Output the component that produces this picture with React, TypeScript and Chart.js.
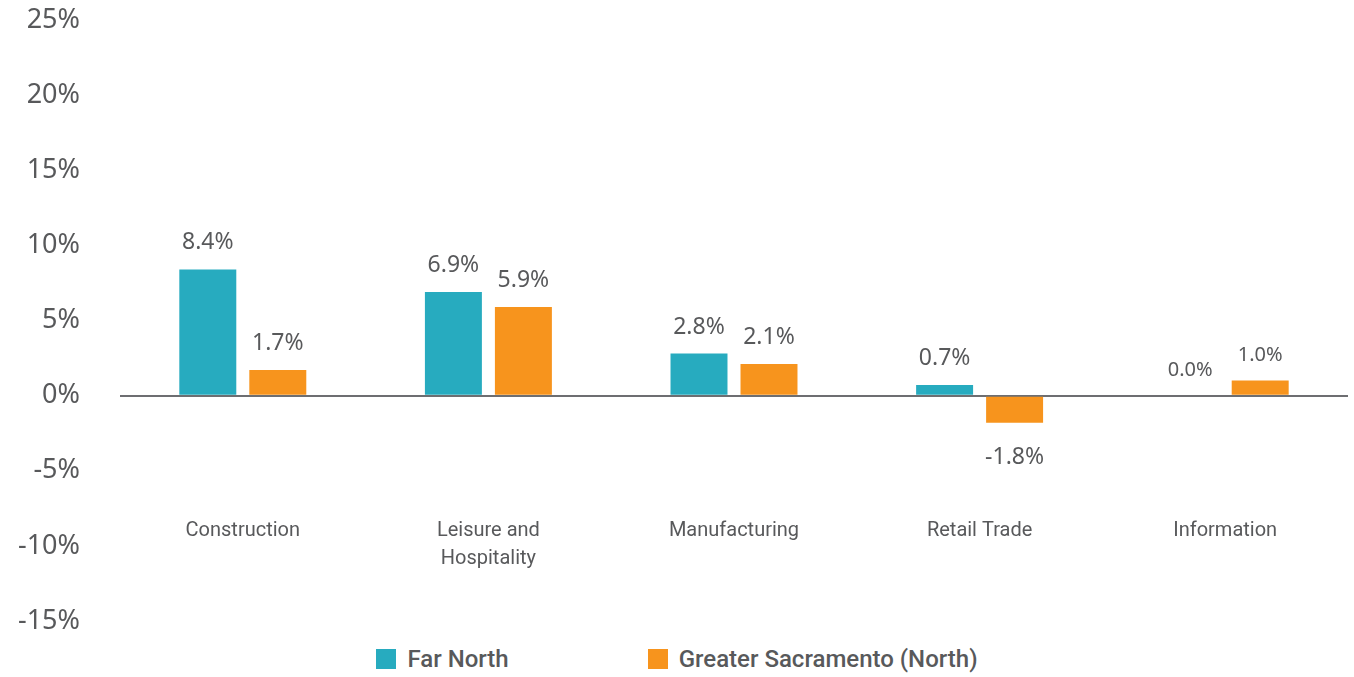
import React, { useEffect, useRef } from "react";
import { Chart, registerables } from "chart.js";

Chart.register(...registerables);

const categories: (string | string[])[] = [
  "Construction",
  ["Leisure and", "Hospitality"],
  "Manufacturing",
  "Retail Trade",
  "Information",
];
const farNorth = [8.4, 6.9, 2.8, 0.7, 0.0];
const greaterSacramento = [1.7, 5.9, 2.1, -1.8, 1.0];
const seriesNames = ["Far North", "Greater Sacramento (North)"];
const seriesColors = ["#27abbf", "#f7941d"];
const yMin = -15;
const yMax = 25;
const yStep = 5;

const TEXT = "#58595b";

const valueLabels = {
  id: "valueLabels",
  afterDatasetsDraw(chart: any) {
    const ctx = chart.ctx;
    ctx.save();
    ctx.fillStyle = TEXT;
    ctx.textAlign = "center";
    ctx.textBaseline = "alphabetic";
    chart.data.datasets.forEach((ds: any, di: number) => {
      const meta = chart.getDatasetMeta(di);
      meta.data.forEach((el: any, i: number) => {
        const v = ds.data[i];
        const size = i === categories.length - 1 ? 20 : 23;
        ctx.font = `${size}px "Noto Sans", sans-serif`;
        const y = v >= 0 ? el.y - 20 : el.y + 41;
        ctx.fillText(v.toFixed(1) + "%", el.x, y);
      });
    });
    ctx.restore();
  },
};

export default function App() {
  const ref = useRef<HTMLCanvasElement>(null);

  useEffect(() => {
    if (!ref.current) return;
    const chart = new Chart(ref.current, {
      type: "bar",
      data: {
        labels: categories,
        datasets: [
          {
            label: seriesNames[0],
            data: farNorth,
            backgroundColor: seriesColors[0],
            categoryPercentage: 0.57,
            barPercentage: 0.814,
          },
          {
            label: seriesNames[1],
            data: greaterSacramento,
            backgroundColor: seriesColors[1],
            categoryPercentage: 0.57,
            barPercentage: 0.814,
          },
        ],
      },
      options: {
        animation: false,
        responsive: true,
        maintainAspectRatio: false,
        layout: { padding: { top: 20, right: 6, bottom: 19, left: 0 } },
        plugins: {
          legend: { display: false },
          tooltip: { enabled: false },
        },
        scales: {
          x: {
            type: "category",
            position: { y: -8.1 } as any,
            afterFit(scale: any) {
              scale.height = 0;
            },
            grid: { display: false, drawTicks: false },
            border: { display: false },
            ticks: {
              color: TEXT,
              padding: 0,
              maxRotation: 0,
              autoSkip: false,
              font: { family: "Roboto", size: 20, lineHeight: 1.4 },
            },
          },
          y: {
            min: yMin,
            max: yMax,
            afterFit(scale: any) {
              scale.width = 120;
              scale.paddingTop = 0;
              scale.paddingBottom = 0;
            },
            ticks: {
              stepSize: yStep,
              color: TEXT,
              padding: 40,
              font: { family: "Noto Sans", size: 27 },
              callback: (v: any) => `${v}%`,
            },
            border: { display: false },
            grid: {
              drawTicks: false,
              lineWidth: 2,
              color: (c: any) => (c.tick && c.tick.value === 0 ? "#6d6e71" : "rgba(0,0,0,0)"),
            },
          },
        },
      },
      plugins: [valueLabels],
    });
    return () => chart.destroy();
  }, []);

  return (
    <div
      style={{
        position: "fixed",
        left: 0,
        top: 0,
        width: 1354,
        height: 677,
        background: "#fff",
      }}
    >
      <div style={{ position: "relative", width: 1354, height: 640 }}>
        <canvas ref={ref} />
      </div>
      <div
        style={{
          height: 37,
          display: "flex",
          justifyContent: "center",
          alignItems: "center",
          gap: 139,
          fontFamily: "Roboto, sans-serif",
          fontWeight: 500,
          fontSize: 24,
          color: TEXT,
        }}
      >
        {seriesNames.map((n, i) => (
          <div key={n} style={{ display: "flex", alignItems: "center" }}>
            <span
              style={{
                display: "inline-block",
                width: 20,
                height: 20,
                background: seriesColors[i],
                marginRight: 11,
              }}
            />
            <span>{n}</span>
          </div>
        ))}
      </div>
    </div>
  );
}
